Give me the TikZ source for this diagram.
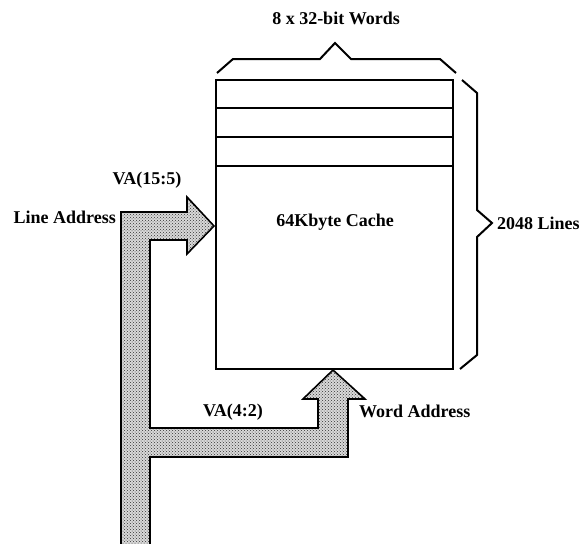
\documentclass[tikz,border=0pt]{standalone}
\usepackage{fontspec}
\setmainfont{Liberation Serif}
\usepackage{tikz}
\usetikzlibrary{patterns}

\tikzset{
    lbl/.style={font=\fontsize{18}{21}\selectfont\bfseries, inner sep=0pt},
    bus/.style={fill=gray!30, draw=none},
    busdots/.style={pattern=crosshatch dots, pattern color=black!80},
    busline/.style={line width=1.6pt, line join=miter},
    bracket/.style={line width=2pt, line join=miter}
}

\begin{document}
\begin{tikzpicture}[x=1pt, y=-1pt]
    \useasboundingbox (0,0) rectangle (585,543);

    % Cache array
    \draw[line width=1.8pt] (216,80) rectangle (453,369);
    \foreach \y in {108,137,166}
        \draw[line width=1.8pt] (216,\y) -- (453,\y);
    \node[lbl] (cache) at (335,222) {64Kbyte Cache};

    % Brackets
    \draw[bracket] (217,73) -- (233,59) -- (320,59) -- (335,43) -- (351,59) -- (440,59) -- (456,73);
    \node[lbl] (words) at (336,18) {8 x 32-bit Words};
    \draw[bracket] (462,80) -- (477,93) -- (477,210) -- (492,223) -- (477,237) -- (477,355) -- (460,369);
    \node[lbl, anchor=west] (lines) at (497,223) {2048 Lines};

    % Address bus
    \def\busshape{(121,548) -- (121,212) -- (187,212) -- (187,197) -- (214,226) -- (187,254) -- (187,240)
        -- (150,240) -- (150,428) -- (318,428) -- (318,399) -- (303,399) -- (333,370) -- (365,399)
        -- (348,399) -- (348,457) -- (150,457) -- (150,548)}
    \path[bus] \busshape -- cycle;
    \path[busdots] \busshape -- cycle;
    \draw[busline] \busshape;

    % Labels
    \node[lbl] (vahigh) at (147,180) {VA(15:5)};
    \node[lbl, anchor=east] (lineaddr) at (116,217) {Line Address};
    \node[lbl] (valow) at (233,412) {VA(4:2)};
    \node[lbl, anchor=west] (wordaddr) at (359,411) {Word Address};
\end{tikzpicture}
\end{document}
